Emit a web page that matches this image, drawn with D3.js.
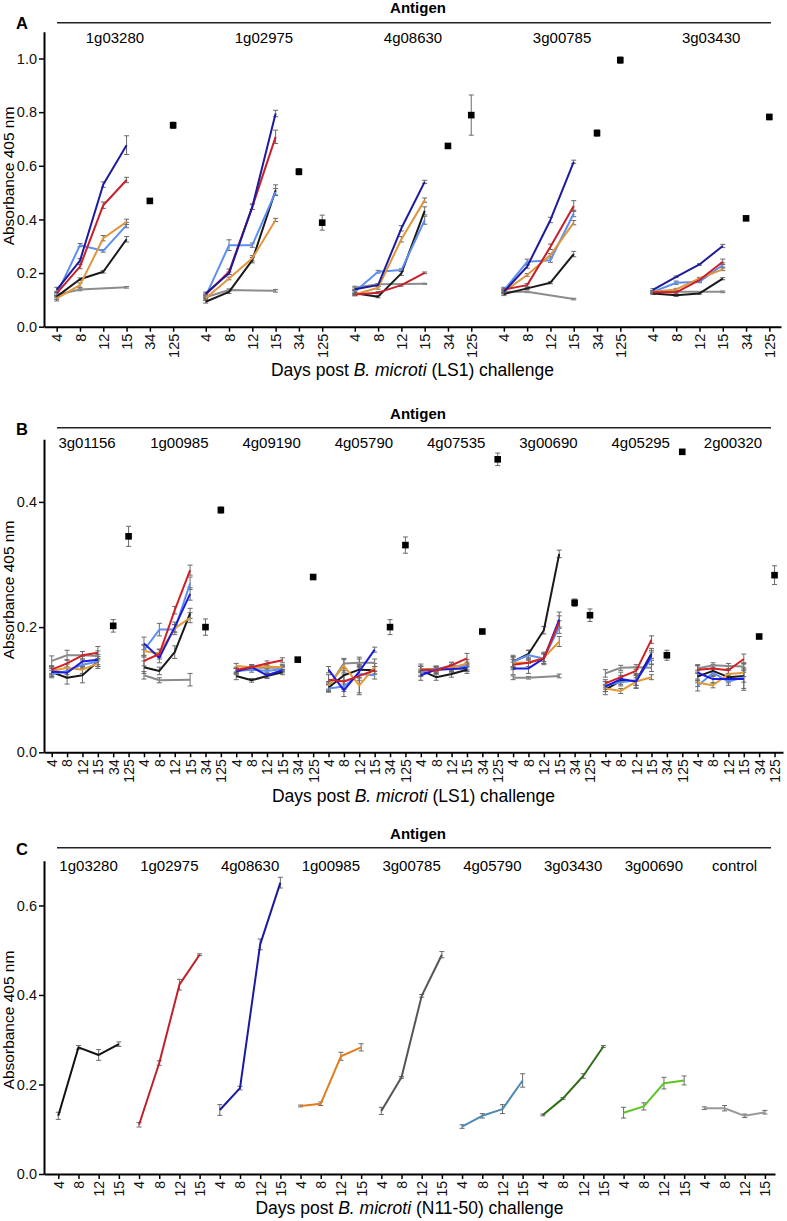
<!DOCTYPE html>
<html><head><meta charset="utf-8">
<script src="https://cdn.jsdelivr.net/npm/d3@7"></script>
<style>
body{margin:0;background:#fff;}
svg{font-family:"Liberation Sans",Arial,Helvetica,sans-serif;}
</style></head><body>
<svg id="chart" width="787" height="1221"></svg>
<script>
// ---------------- Panel A data ----------------
const aAntigens = ["1g03280","1g02975","4g08630","3g00785","3g03430"];
const aDays = ["4","8","12","15","34","125"];
// values per antigen at days 4, 8, 12, 15
const aNavy = [[0.137,0.246,0.530,0.677],[0.124,0.199,0.447,0.795],[0.140,0.155,0.367,0.540],[0.130,0.224,0.398,0.615],[0.137,0.186,0.232,0.301]];
const aNavyErr = [[0.010,0.008,0.010,0.035],[0.005,0.005,0.010,0.012],[0.005,0.006,0.010,0.006],[0.008,0.006,0.010,0.006],[0.005,0.003,0.003,0.006]];
const aRed = [[0.124,0.224,0.453,0.547],[0.120,0.205,0.447,0.708],[0.120,0.127,0.155,0.201],[0.139,0.155,0.298,0.450],[0.128,0.128,0.174,0.242]];
const aRedErr = [[0.008,0.008,0.012,0.010],[0.005,0.010,0.010,0.025],[0.004,0.004,0.004,0.003],[0.008,0.006,0.010,0.020],[0.005,0.006,0.005,0.010]];
const aOrange = [[0.106,0.155,0.330,0.391],[0.106,0.180,0.255,0.398],[0.120,0.145,0.326,0.472],[0.130,0.193,0.267,0.388],[0.130,0.139,0.180,0.214]];
const aOrangeErr = [[0.010,0.008,0.010,0.010],[0.005,0.005,0.010,0.006],[0.005,0.005,0.010,0.008],[0.006,0.005,0.006,0.008],[0.005,0.004,0.004,0.005]];
const aLightBlue = [[0.120,0.304,0.283,0.379],[0.114,0.304,0.304,0.503],[0.130,0.205,0.211,0.397],[0.135,0.242,0.248,0.422],[0.130,0.164,0.168,0.230]];
const aLightBlueErr = [[0.008,0.006,0.005,0.010],[0.005,0.020,0.008,0.012],[0.006,0.005,0.005,0.015],[0.008,0.010,0.008,0.012],[0.005,0.006,0.004,0.008]];
const aBlack = [[0.112,0.177,0.205,0.326],[0.093,0.130,0.248,0.509],[0.125,0.112,0.199,0.432],[0.122,0.143,0.164,0.271],[0.124,0.117,0.124,0.179]];
const aBlackErr = [[0.010,0.005,0.005,0.010],[0.005,0.006,0.010,0.020],[0.005,0.004,0.008,0.015],[0.006,0.004,0.004,0.010],[0.004,0.004,0.003,0.004]];
const aGray = [[0.118,0.139,null,0.147],[0.110,0.137,null,0.134],[0.145,0.158,null,0.160],[0.130,0.130,null,0.103],[0.130,0.130,null,0.130]];
const aGrayErr = [[0.010,0.005,null,0.003],[0.005,0.004,null,0.005],[0.006,0.003,null,0.002],[0.006,0.003,null,0.003],[0.004,0.003,null,0.003]];
// single values at day 34 and day 125
const aLate = [[0.469,0.751],[0.578,0.388],[0.674,0.789],[0.722,0.994],[0.404,0.782]];
const aLateErr = [[0.005,0.012],[0.012,0.028],[0.004,0.075],[0.012,0.012],[0.004,0.010]];
const aYTicks = [0,0.2,0.4,0.6,0.8,1.0];

// ---------------- Panel B data ----------------
const bAntigens = ["3g01156","1g00985","4g09190","4g05790","4g07535","3g00690","4g05295","2g00320"];
const bDays = ["4","8","12","15","34","125"];
const bBlue = [[0.129,0.127,0.145,0.148],[0.174,0.151,0.200,0.253],[0.129,0.136,0.123,0.131],[0.132,0.099,0.129,0.164],[0.123,0.132,0.133,0.135],[0.134,0.134,0.150,0.212],[0.105,0.117,0.113,0.155],[0.127,0.117,0.117,0.117]];
const bBlueErr = [[0.008,0.008,0.008,0.008],[0.010,0.008,0.008,0.010],[0.005,0.004,0.004,0.004],[0.005,0.010,0.010,0.004],[0.008,0.004,0.005,0.005],[0.010,0.008,0.010,0.012],[0.008,0.006,0.010,0.008],[0.012,0.006,0.006,0.018]];
const bRed = [[0.132,0.142,0.155,0.159],[0.146,0.157,0.227,0.291],[0.132,0.136,0.142,0.147],[0.116,0.113,0.122,0.131],[0.132,0.131,0.139,0.150],[0.140,0.143,0.150,0.208],[0.110,0.120,0.130,0.180],[0.132,0.134,0.131,0.149]];
const bRedErr = [[0.006,0.006,0.006,0.010],[0.008,0.008,0.006,0.008],[0.004,0.004,0.004,0.004],[0.008,0.012,0.030,0.006],[0.005,0.006,0.005,0.008],[0.008,0.006,0.008,0.010],[0.006,0.008,0.006,0.006],[0.006,0.006,0.006,0.008]];
const bOrange = [[0.130,0.135,0.132,0.142],[0.162,0.158,0.198,0.215],[0.138,0.136,0.137,0.136],[0.107,0.138,0.107,0.136],[0.133,0.131,0.135,0.142],[0.143,0.143,0.151,0.177],[0.102,0.098,0.113,0.120],[0.111,0.107,0.125,0.127]];
const bOrangeErr = [[0.006,0.006,0.006,0.008],[0.010,0.006,0.006,0.008],[0.004,0.004,0.004,0.004],[0.006,0.010,0.012,0.006],[0.005,0.005,0.005,0.006],[0.008,0.006,0.006,0.008],[0.005,0.004,0.006,0.004],[0.006,0.004,0.006,0.006]];
const bLightBlue = [[0.125,0.130,0.140,0.145],[0.163,0.196,0.196,0.270],[0.130,0.132,0.130,0.133],[0.102,0.105,0.125,0.123],[0.128,0.133,0.138,0.138],[0.145,0.155,0.150,0.200],[0.107,0.112,0.115,0.150],[0.106,0.127,0.113,0.120]];
const bLightBlueErr = [[0.006,0.006,0.006,0.008],[0.008,0.010,0.008,0.010],[0.004,0.004,0.004,0.004],[0.006,0.008,0.010,0.006],[0.005,0.005,0.005,0.006],[0.008,0.008,0.008,0.010],[0.006,0.006,0.008,0.010],[0.008,0.006,0.006,0.008]];
const bBlack = [[0.128,0.119,0.123,0.145],[0.136,0.130,0.160,0.222],[0.122,0.115,0.122,0.128],[0.103,0.123,0.132,0.131],[0.131,0.120,0.125,0.132],[0.145,0.157,0.195,0.317],[0.100,0.114,0.114,0.158],[0.121,0.130,0.120,0.122]];
const bBlackErr = [[0.006,0.010,0.012,0.008],[0.010,0.006,0.010,0.008],[0.006,0.003,0.004,0.004],[0.006,0.008,0.008,0.006],[0.010,0.005,0.005,0.006],[0.010,0.006,0.006,0.006],[0.008,0.006,0.012,0.008],[0.010,0.008,0.006,0.020]];
const bGray = [[0.146,0.155,0.155,0.154],[0.123,0.115,null,0.116],[0.130,0.135,0.135,0.135],[0.105,0.142,0.143,0.143],[0.133,0.133,0.133,0.133],[0.119,0.119,null,0.122],[0.126,0.135,0.136,0.135],[0.134,0.139,0.138,0.137]];
const bGrayErr = [[0.008,0.008,0.006,0.008],[0.006,0.004,null,0.010],[0.004,0.004,0.004,0.004],[0.006,0.008,0.006,0.006],[0.004,0.004,0.004,0.004],[0.003,0.002,null,0.003],[0.006,0.004,0.004,0.006],[0.006,0.004,0.004,0.006]];
const bLate = [[0.202,0.345],[0.200,0.387],[0.148,0.280],[0.200,0.331],[0.193,0.468],[0.239,0.219],[0.155,0.480],[0.185,0.283]];
const bLateErr = [[0.010,0.016],[0.013,0.005],[0.002,0.002],[0.012,0.013],[0.002,0.010],[0.006,0.010],[0.008,0.002],[0.002,0.015]];
const bYTicks = [0,0.2,0.4];

// ---------------- Panel C data ----------------
const cAntigens = ["1g03280","1g02975","4g08630","1g00985","3g00785","4g05790","3g03430","3g00690","control"];
const cDays = ["4","8","12","15"];
const cValues = [[0.130,0.283,0.266,0.290],[0.110,0.248,0.423,0.490],[0.143,0.192,0.513,0.651],[0.152,0.157,0.263,0.283],[0.141,0.216,0.398,0.490],[0.106,0.130,0.145,0.209],[0.132,0.169,0.219,0.285],[0.137,0.151,0.203,0.209],[0.147,0.147,0.130,0.138]];
const cErr = [[0.008,0.004,0.012,0.005],[0.005,0.005,0.012,0.002],[0.012,0.004,0.012,0.012],[0.002,0.004,0.009,0.008],[0.008,0.002,0.003,0.007],[0.004,0.005,0.010,0.015],[0.002,0.002,0.005,0.002],[0.012,0.008,0.013,0.010],[0.003,0.006,0.004,0.004]];
const cYTicks = [0,0.2,0.4,0.6];

// ---------------- styles ----------------
const aColors = {gray:"#8c8c8c",black:"#1a1a1a",lightblue:"#5d8ff2",orange:"#e0963a",red:"#c8202c",navy:"#1e1a9c"};
const bColors = {gray:"#8a8a8a",black:"#1a1a1a",lightblue:"#5d8ff2",orange:"#e39a35",blue:"#1a1ae0",red:"#d21f26"};
const cColors = ["#111111","#c0202a","#1a1aa0","#e07d1c","#555555","#4a8ab5","#2e6e14","#5ec424","#999999"];
const errColor = "#6a6a6a";

const svg = d3.select("#chart");

function errBar(g, x, y, v, e, cap) {
  if (e == null || v == null) return;
  const yt = y(v + e), yb = y(v - e);
  g.append("line").attr("x1",x).attr("x2",x).attr("y1",yt).attr("y2",yb).attr("stroke",errColor).attr("stroke-width",1);
  g.append("line").attr("x1",x-cap).attr("x2",x+cap).attr("y1",yt).attr("y2",yt).attr("stroke",errColor).attr("stroke-width",1);
  g.append("line").attr("x1",x-cap).attr("x2",x+cap).attr("y1",yb).attr("y2",yb).attr("stroke",errColor).attr("stroke-width",1);
}

function drawPanel(p) {
  const g = svg.append("g");
  const y = d3.scaleLinear().domain([0,p.yMax]).range([p.bottom,p.top]);
  const x = d3.scaleLinear().domain(p.xDomain).range([44,p.xEnd]);
  const pos = (gi,k) => gi*p.stride + k;
  const tickVals = [], tickLabs = [];
  p.groups.forEach((_,gi)=>p.days.forEach((d,k)=>{tickVals.push(pos(gi,k)); tickLabs.push(d);}));

  // header
  g.append("text").attr("x",16).attr("y",p.letterY).text(p.letter).attr("font-weight","bold").attr("font-size",16.5);
  g.append("text").attr("x",418).attr("y",p.antigenY).attr("text-anchor","middle").text("Antigen").attr("font-weight","bold").attr("font-size",15);
  g.append("line").attr("x1",57).attr("x2",771).attr("y1",p.lineY).attr("y2",p.lineY).attr("stroke","#222").attr("stroke-width",1.6);
  p.groups.forEach((name,gi)=>{
    const cx = x(pos(gi,(p.centerK)));
    g.append("text").attr("x",cx).attr("y",p.groupY).attr("text-anchor","middle").attr("font-size",15).text(name);
  });

  // axes
  const gx = g.append("g").attr("transform",`translate(0,${p.bottom})`)
    .call(d3.axisBottom(x).tickValues(tickVals).tickFormat((d,i)=>tickLabs[i]).tickSize(5).tickSizeOuter(0));
  gx.select(".domain").attr("stroke","#000").attr("stroke-width",2);
  gx.selectAll(".tick line").attr("stroke","#000").attr("stroke-width",1.5);
  gx.selectAll(".tick text").attr("transform","rotate(-90)").attr("text-anchor","end")
    .attr("x",-7).attr("y",0).attr("dy","0.35em").attr("font-size",p.xFont).attr("fill","#111")
    .attr("font-family","'Liberation Sans',Arial,sans-serif");
  const gy = g.append("g").attr("transform","translate(44,0)")
    .call(d3.axisLeft(y).tickValues(p.yTicks).tickFormat(d3.format(".1f")).tickSize(5).tickSizeOuter(0));
  gy.select(".domain").attr("stroke","#000").attr("stroke-width",2);
  gy.selectAll(".tick line").attr("stroke","#000").attr("stroke-width",1.5);
  gy.selectAll(".tick text").attr("font-size",14.5).attr("fill","#111").attr("x",-7)
    .attr("font-family","'Liberation Sans',Arial,sans-serif");
  g.append("text").attr("transform",`translate(13.5,${p.yTitleC}) rotate(-90)`)
    .attr("text-anchor","middle").attr("font-size",15.5).text("Absorbance 405 nm");
  const t = g.append("text").attr("x",(44+p.xEnd)/2).attr("y",p.titleY).attr("text-anchor","middle").attr("font-size",17.5);
  t.append("tspan").text("Days post ");
  t.append("tspan").attr("font-style","italic").text("B. microti");
  t.append("tspan").text(p.strain);

  const marks = g.append("g");
  const line = d3.line().x(d=>d[0]).y(d=>d[1]);
  // error bars first, then lines on top
  p.series.forEach(s=>{
    p.groups.forEach((_,gi)=>{
      const vals = s.values[gi], errs = s.err[gi];
      vals.forEach((v,k)=>errBar(marks, x(pos(gi,k)), y, v, errs[k], 2.5));
    });
  });
  p.series.forEach(s=>{
    p.groups.forEach((_,gi)=>{
      const pts = s.values[gi].map((v,k)=>v==null?null:[x(pos(gi,k)),y(v)]).filter(d=>d);
      marks.append("path").attr("d",line(pts)).attr("fill","none")
        .attr("stroke",typeof s.color==="function"?s.color(gi):s.color).attr("stroke-width",2).attr("stroke-linejoin","round");
    });
  });
  // single values at days 34 and 125
  if (p.late) {
    p.groups.forEach((_,gi)=>{
      p.late[gi].forEach((v,j)=>{
        const cx = x(pos(gi,4+j));
        errBar(marks, cx, y, v, p.lateErr[gi][j], 2.5);
        marks.append("rect").attr("x",cx-3.3).attr("y",y(v)-3.3).attr("width",6.6).attr("height",6.6).attr("fill","#000");
      });
    });
  }
}

// Panel A
drawPanel({
  letter:"A", letterY:29, antigenY:13, lineY:22.7, groupY:43,
  top:31.7, bottom:326.7, yMax:1.1, yTicks:aYTicks, yTitleC:176,
  xDomain:[-0.545,31.1], xEnd:781, stride:6.4, centerK:2.5,
  groups:aAntigens, days:aDays, xFont:14.5, titleY:376, strain:" (LS1) challenge",
  series:[
    {values:aGray,err:aGrayErr,color:aColors.gray},
    {values:aBlack,err:aBlackErr,color:aColors.black},
    {values:aLightBlue,err:aLightBlueErr,color:aColors.lightblue},
    {values:aOrange,err:aOrangeErr,color:aColors.orange},
    {values:aRed,err:aRedErr,color:aColors.red},
    {values:aNavy,err:aNavyErr,color:aColors.navy}
  ],
  late:aLate, lateErr:aLateErr
});

// Panel B
drawPanel({
  letter:"B", letterY:435, antigenY:419, lineY:427.7, groupY:448,
  top:439.3, bottom:752.3, yMax:0.5, yTicks:bYTicks, yTitleC:590,
  xDomain:[-0.5,47.55], xEnd:783, stride:6, centerK:2.3,
  groups:bAntigens, days:bDays, xFont:14, titleY:802, strain:" (LS1) challenge",
  series:[
    {values:bGray,err:bGrayErr,color:bColors.gray},
    {values:bBlack,err:bBlackErr,color:bColors.black},
    {values:bLightBlue,err:bLightBlueErr,color:bColors.lightblue},
    {values:bOrange,err:bOrangeErr,color:bColors.orange},
    {values:bBlue,err:bBlueErr,color:bColors.blue},
    {values:bRed,err:bRedErr,color:bColors.red}
  ],
  late:bLate, lateErr:bLateErr
});

// Panel C
drawPanel({
  letter:"C", letterY:855, antigenY:839, lineY:847.7, groupY:870.5,
  top:860.7, bottom:1174, yMax:0.7, yTicks:cYTicks, yTitleC:1020,
  xDomain:[-0.708,35.5], xEnd:775, stride:4, centerK:1.5,
  groups:cAntigens, days:cDays, xFont:14, titleY:1214, strain:" (N11-50) challenge",
  series:[{values:cAntigens.map((_,gi)=>cValues[gi]), err:cErr, color:gi=>cColors[gi]}],
  late:null
});
</script>
</body></html>
